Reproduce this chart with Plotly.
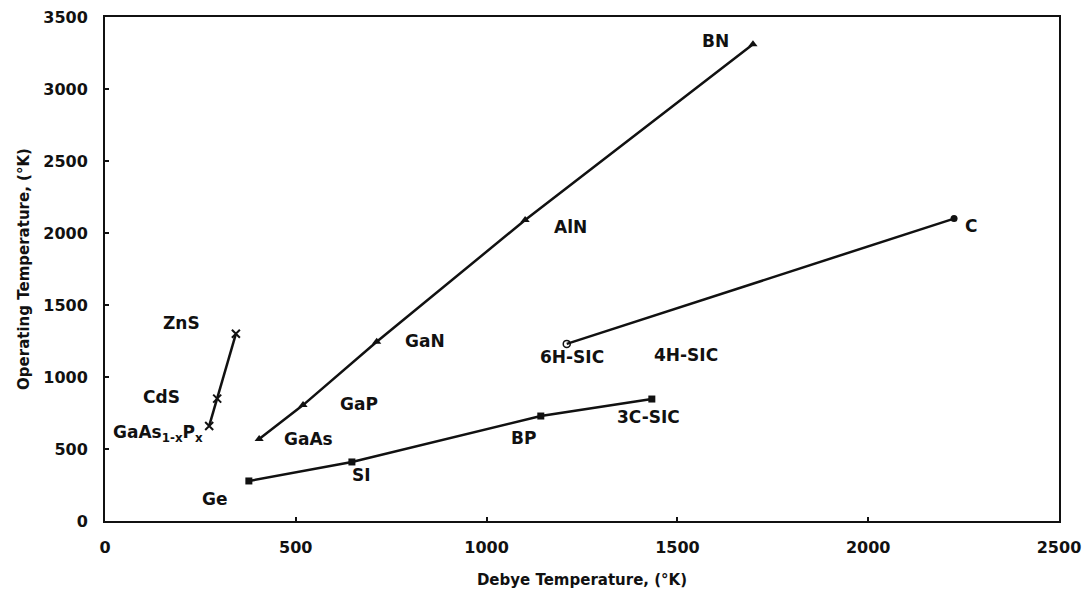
import plotly.graph_objects as go

# II-VI / GaAsP series (x markers)
xs_x = [273, 294, 343]
ys_x = [660, 850, 1300]

# III-V nitrides etc. (triangles)
tri_names = ["GaAs", "GaP", "GaN", "AlN", "BN"]
tri_x = [404, 519, 712, 1101, 1698]
tri_y = [570, 805, 1245, 2090, 3310]

# SiC hexagonal / diamond (circles)
circ_x = [1210, 2225]
circ_y = [1230, 2100]

# cubic (squares)
sq_names = ["Ge", "Si", "BP", "3C-SiC"]
sq_x = [377, 647, 1142, 1433]
sq_y = [278, 410, 729, 847]

# text labels
lab_text = ["ZnS", "CdS", "GaAs<sub>1-x</sub>P<sub>x</sub>", "Ge", "GaAs", "GaP", "GaN", "SI",
            "BP", "3C-SIC", "6H-SIC", "4H-SIC", "AlN", "C", "BN"]
lab_x = [201, 149, 140, 288, 532, 666, 839, 673, 1096, 1423, 1224, 1523, 1221, 2269, 1599]
lab_y = [1375, 861, 610, 153, 569, 812, 1250, 319, 576, 722, 1139, 1153, 2042, 2049, 3333]

xticks = [0, 500, 1000, 1500, 2000, 2500]
yticks = [0, 500, 1000, 1500, 2000, 2500, 3000, 3500]

ink = "#111111"
FONT = "DejaVu Sans"
fig = go.Figure()
fig.add_trace(go.Scatter(x=xs_x, y=ys_x, mode="lines+markers",
                         line=dict(color=ink, width=2.5),
                         marker=dict(symbol="x-thin", size=8, line=dict(color=ink, width=2))))
fig.add_trace(go.Scatter(x=tri_x, y=tri_y, mode="lines+markers",
                         line=dict(color=ink, width=2.5),
                         marker=dict(symbol="triangle-up", size=8, color=ink)))
fig.add_trace(go.Scatter(x=circ_x, y=circ_y, mode="lines",
                         line=dict(color=ink, width=2.5)))
fig.add_trace(go.Scatter(x=circ_x[:1], y=circ_y[:1], mode="markers",
                         marker=dict(symbol="circle-open", size=7, color=ink, line=dict(width=1.5))))
fig.add_trace(go.Scatter(x=circ_x[1:], y=circ_y[1:], mode="markers",
                         marker=dict(symbol="circle", size=7, color=ink)))
fig.add_trace(go.Scatter(x=sq_x, y=sq_y, mode="lines+markers",
                         line=dict(color=ink, width=2.5),
                         marker=dict(symbol="square", size=7, color=ink)))

for t, x, y in zip(lab_text, lab_x, lab_y):
    fig.add_annotation(x=x, y=y, text="<b>" + t + "</b>", showarrow=False,
                       font=dict(family=FONT, size=17, color=ink))

fig.update_layout(
    width=1083, height=599,
    margin=dict(l=105, r=24, t=17, b=78),
    paper_bgcolor="white", plot_bgcolor="white",
    showlegend=False,
    font=dict(family=FONT, color=ink),
)
fig.update_xaxes(range=[0, 2500], tickvals=xticks, ticks="inside", ticklen=4, tickwidth=1.5,
                 tickcolor=ink, showline=True, linecolor=ink, linewidth=2, mirror=True,
                 showgrid=False, zeroline=False, ticklabelstandoff=11, automargin="height",
                 tickfont=dict(size=16, family=FONT, weight="bold"),
                 title=dict(text="<b>Debye Temperature, (°K)</b>", font=dict(size=15, family=FONT), standoff=18))
fig.update_yaxes(range=[0, 3500], tickvals=yticks, ticks="inside", ticklen=4, tickwidth=1.5,
                 tickcolor=ink, showline=True, linecolor=ink, linewidth=2, mirror=True,
                 showgrid=False, zeroline=False, ticklabelstandoff=12, automargin="width",
                 tickfont=dict(size=16, family=FONT, weight="bold"),
                 title=dict(text="<b>Operating Temperature, (°K)</b>", font=dict(size=15, family=FONT), standoff=10))

fig.write_html("out.html")
